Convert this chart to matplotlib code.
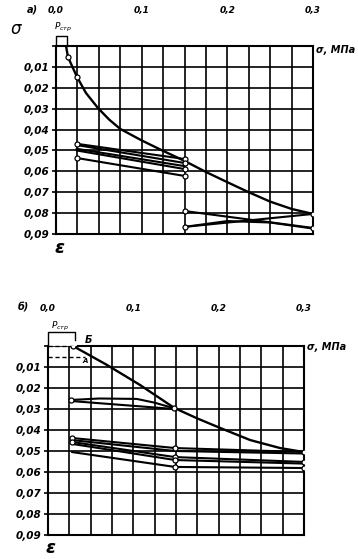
import matplotlib
matplotlib.use("Agg")
import matplotlib.pyplot as plt
import numpy as np

plt.rcParams['font.family'] = ['DejaVu Sans']
plt.rcParams['mathtext.fontset'] = 'dejavusans'

# ---------------- data: panel a ----------------
a_main_x = [0.0117, 0.014, 0.0245, 0.035, 0.049, 0.062, 0.075, 0.100, 0.125, 0.150, 0.175, 0.200, 0.225, 0.250, 0.275, 0.300]
a_main_y = [0.0, 0.0053, 0.0148, 0.0225, 0.0297, 0.0352, 0.0397, 0.0452, 0.0502, 0.0550, 0.0603, 0.0652, 0.0700, 0.0745, 0.0780, 0.0804]
a_main_mk_x = [0.014, 0.0245, 0.300]
a_main_mk_y = [0.0053, 0.0148, 0.0804]

a_loop1_x = [0.024, 0.150]
a_loop1_ys = [[0.0468, 0.0541], [0.0474, 0.0560], [0.0492, 0.0575], [0.0500, 0.0589], [0.0536, 0.0622]]
a_loop1_mk_y_left = [0.0468, 0.0536]
a_loop1_mk_y_right = [0.0541, 0.0560, 0.0589, 0.0622]

a_loop2_lines = [
    ([0.150, 0.300], [0.0790, 0.0871]),
    ([0.300, 0.225, 0.150], [0.0804, 0.0835, 0.0866]),
    ([0.150, 0.200, 0.250, 0.300], [0.0866, 0.0838, 0.0845, 0.0874]),
]
a_loop2_mk_x = [0.150, 0.150, 0.300]
a_loop2_mk_y = [0.0790, 0.0866, 0.0871]
a_pstr = 0.0125

# ---------------- data: panel b ----------------
b_main_x = [0.0293, 0.069, 0.108, 0.148, 0.175, 0.2016, 0.237, 0.272, 0.300]
b_main_y = [0.0, 0.0090, 0.0186, 0.0295, 0.0345, 0.0390, 0.0448, 0.0486, 0.0505]
b_main_mk_x = [0.0293]
b_main_mk_y = [0.0]

b_loop1_lines = [
    ([0.027, 0.060, 0.104, 0.125, 0.148], [0.0257, 0.0250, 0.0252, 0.0270, 0.0297]),
    ([0.027, 0.148], [0.0262, 0.0300]),
]
b_loop1_mk_x = [0.027, 0.148]
b_loop1_mk_y = [0.0257, 0.0297]

b_bundle_x = [0.028, 0.149, 0.300]
b_bundle_ys = [
    [0.0438, 0.0486, 0.0505],
    [0.0448, 0.0500, 0.0512],
    [0.0457, 0.0529, 0.0552],
    [0.0466, 0.0543, 0.0560],
    [0.0505, 0.0576, 0.0581],
]
b_bundle_mk_left = [0.0438, 0.0457]
b_bundle_mk_mid = [0.0486, 0.0529, 0.0543, 0.0576]
b_bundle_mk_right = [0.0505, 0.0552, 0.0581]
b_pstr = 0.0316

x_ticks = [0.0, 0.025, 0.05, 0.075, 0.1, 0.125, 0.15, 0.175, 0.2, 0.225, 0.25, 0.275, 0.3]
x_labels = ["0,0", "", "", "", "0,1", "", "", "", "0,2", "", "", "", "0,3"]
y_ticks = [0.0, 0.01, 0.02, 0.03, 0.04, 0.05, 0.06, 0.07, 0.08, 0.09]
y_labels = ["", "0,01", "0,02", "0,03", "0,04", "0,05", "0,06", "0,07", "0,08", "0,09"]

W, H = 358, 559
fig = plt.figure(figsize=(W / 100, H / 100), dpi=100)
ax1 = fig.add_axes([56 / W, 1 - 234 / H, 257 / W, 188 / H])
ax2 = fig.add_axes([48 / W, 1 - 535 / H, 256 / W, 189 / H])

fkw = dict(fontstyle='italic', fontweight='bold', color='black')

for ax, pad in ((ax1, 22), (ax2, 24)):
    ax.set_xlim(0, 0.3)
    ax.set_ylim(0.09, 0)
    ax.set_xticks(x_ticks)
    ax.set_xticklabels(x_labels, fontsize=6.5, **fkw)
    ax.set_yticks(y_ticks)
    ax.set_yticklabels(y_labels, fontsize=7.5, **fkw)
    ax.xaxis.set_ticks_position('top')
    ax.tick_params(axis='x', length=0, pad=pad)
    ax.tick_params(axis='y', length=3, width=1.2, pad=2)
    ax.grid(True, color='black', lw=1.2)
    for s in ax.spines.values():
        s.set_linewidth(1.5)
    ax.set_axisbelow(True)

mk = dict(marker='o', ms=3.6, mfc='white', mec='black', mew=0.9, ls='none', zorder=5)
lkw = dict(color='black', solid_capstyle='round', solid_joinstyle='round')

# panel a
ax1.plot(a_main_x, a_main_y, lw=1.7, **lkw)
ax1.plot(a_main_mk_x, a_main_mk_y, **mk)
for ys in a_loop1_ys:
    ax1.plot(a_loop1_x, ys, lw=1.5, **lkw)
ax1.plot([a_loop1_x[0]] * len(a_loop1_mk_y_left), a_loop1_mk_y_left, **mk)
ax1.plot([a_loop1_x[1]] * len(a_loop1_mk_y_right), a_loop1_mk_y_right, **mk)
for xs, ys in a_loop2_lines:
    ax1.plot(xs, ys, lw=1.5, **lkw)
ax1.plot(a_loop2_mk_x, a_loop2_mk_y, **mk)

# P_str bracket a
yb = -0.0048
ax1.plot([0, 0, a_pstr, a_pstr], [0, yb, yb, 0], color='black', lw=1.0, clip_on=False)
ax1.text(a_pstr * 0.65, -0.0088, r'$P_{стр}$', fontsize=6.5, ha='center', va='center', clip_on=False)

# panel b
ax2.spines['top'].set_visible(False)
ax2.plot([0.035, 0.3], [0, 0], color='black', lw=1.5, clip_on=False)
ax2.plot([0, 0.035], [0, 0], color='black', lw=1.0, ls=(0, (3, 2)), clip_on=False)
ax2.plot([0, 0.043], [0.005, 0.005], color='black', lw=1.0, ls=(0, (3, 2)))
ax2.plot(b_main_x, b_main_y, lw=1.7, **lkw)
ax2.plot(b_main_mk_x, b_main_mk_y, **mk)
for xs, ys in b_loop1_lines:
    ax2.plot(xs, ys, lw=1.5, **lkw)
ax2.plot(b_loop1_mk_x, b_loop1_mk_y, **mk)
for ys in b_bundle_ys:
    ax2.plot(b_bundle_x, ys, lw=1.5, **lkw)
ax2.plot([b_bundle_x[0]] * len(b_bundle_mk_left), b_bundle_mk_left, **mk)
ax2.plot([b_bundle_x[1]] * len(b_bundle_mk_mid), b_bundle_mk_mid, **mk)
ax2.plot([b_bundle_x[2]] * len(b_bundle_mk_right), b_bundle_mk_right, **mk)

yb2 = -0.0067
ax2.plot([0, 0, b_pstr, b_pstr], [0, yb2, yb2, -0.003], color='black', lw=1.0, clip_on=False)
ax2.text(b_pstr * 0.45, -0.0092, r'$P_{стр}$', fontsize=6.5, ha='center', va='center', clip_on=False)
ax2.text(0.047, -0.0029, 'Б', fontsize=7, ha='center', va='center', clip_on=False, **fkw)
ax2.text(0.043, 0.0071, 'А', fontsize=5, ha='center', va='center', **fkw)

# figure texts
fig.text(32 / W, 1 - 10 / H, 'а)', fontsize=7, ha='center', va='center', **fkw)
fig.text(23 / W, 1 - 307 / H, 'б)', fontsize=7, ha='center', va='center', **fkw)
fig.text(16 / W, 1 - 29 / H, 'σ', fontsize=12, ha='center', va='center', fontstyle='italic')
fig.text(60 / W, 1 - 248 / H, 'ε', fontsize=13, ha='center', va='center', **fkw)
fig.text(50 / W, 1 - 548 / H, 'ε', fontsize=13, ha='center', va='center', **fkw)
fig.text(316 / W, 1 - 50 / H, 'σ, МПа', fontsize=7, ha='left', va='center', **fkw)
fig.text(307 / W, 1 - 347 / H, 'σ, МПа', fontsize=7, ha='left', va='center', **fkw)

fig.savefig('out.png', dpi=100, facecolor='white')
